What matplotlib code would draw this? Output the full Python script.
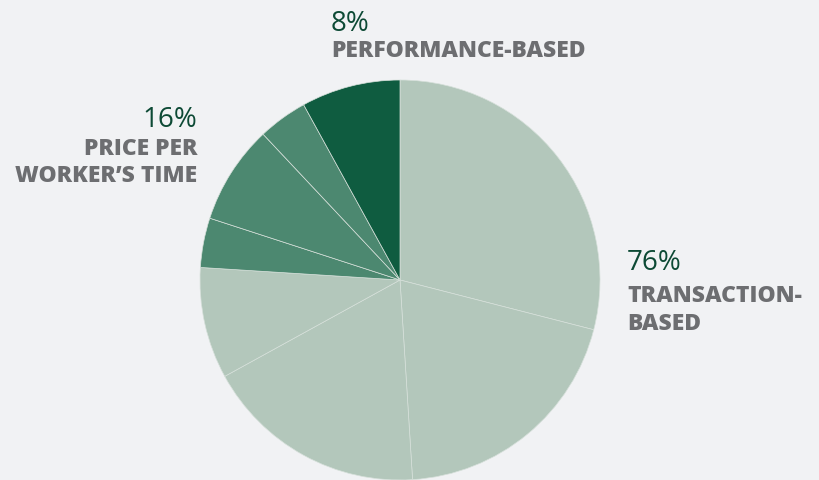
import matplotlib.pyplot as plt

# slice shares, clockwise from 12 o'clock
shares = [29, 20, 18, 9, 4, 8, 4, 8]
groups = ['transaction', 'transaction', 'transaction', 'transaction',
          'worker_time', 'worker_time', 'worker_time', 'performance']

group_colors = {'transaction': '#b3c7bb', 'worker_time': '#4c8870',
                'performance': '#0f5c40'}

pct_labels = ['76%', '16%', '8%']
name_labels = ['TRANSACTION-\nBASED', "PRICE PER\nWORKER\u2019S TIME", 'PERFORMANCE-BASED']

plt.rcParams['font.family'] = ['Open Sans', 'DejaVu Sans']

W, H = 819, 480
fig = plt.figure(figsize=(W / 100, H / 100), dpi=100, facecolor='#f1f2f4')
ax = fig.add_axes([0, 0, 1, 1])
ax.set_facecolor('#f1f2f4')

ax.pie(shares, colors=[group_colors[g] for g in groups], startangle=90,
       counterclock=False, center=(400, H - 280), radius=200,
       wedgeprops=dict(edgecolor='#d6e0da', linewidth=0.5), frame=True)
ax.set_xlim(0, W)
ax.set_ylim(0, H)
ax.set_aspect('equal')
ax.axis('off')

green = '#0d4a35'
gray = '#6d6e71'
pct_size = 20
name_size = 16.5
name_weight = 800

# transaction-based (right)
ax.text(627, H - 270, pct_labels[0], color=green, fontsize=pct_size, va='baseline', ha='left')
ax.text(627, H - 302, 'TRANSACTION-', color=gray, fontsize=name_size, fontweight=name_weight, va='baseline', ha='left')
ax.text(627, H - 330, 'BASED', color=gray, fontsize=name_size, fontweight=name_weight, va='baseline', ha='left')

# price per worker's time (left)
ax.text(197, H - 127, pct_labels[1], color=green, fontsize=pct_size, va='baseline', ha='right')
ax.text(197, H - 155, 'PRICE PER', color=gray, fontsize=name_size, fontweight=name_weight, va='baseline', ha='right')
ax.text(197, H - 182, 'WORKER\u2019S TIME', color=gray, fontsize=name_size, fontweight=name_weight, va='baseline', ha='right')

# performance-based (top)
ax.text(331, H - 31, pct_labels[2], color=green, fontsize=pct_size, va='baseline', ha='left')
ax.text(331, H - 57, name_labels[2], color=gray, fontsize=name_size, fontweight=name_weight, va='baseline', ha='left')

fig.savefig('out.png', dpi=100, facecolor=fig.get_facecolor())
